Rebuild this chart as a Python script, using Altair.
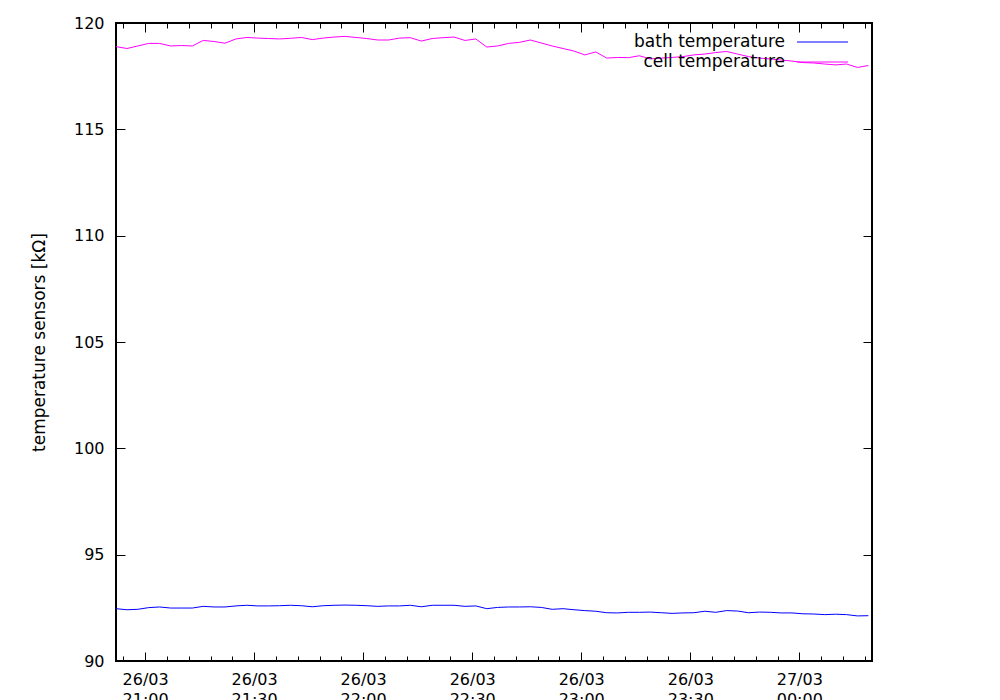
import altair as alt
import pandas as pd

# ---------------- data ----------------
series_names = ["bath temperature", "cell temperature"]
series_colors = ["#0000ff", "#ff00ff"]

start_time = "2010-03-26 20:52"   # first sample
step_minutes = 3                  # sampling step used when reading the picture

bath_values = [
    92.46, 92.41, 92.43, 92.51, 92.54, 92.49, 92.49, 92.49, 92.57, 92.54,
    92.54, 92.59, 92.62, 92.59, 92.59, 92.60, 92.62, 92.60, 92.55, 92.60,
    92.62, 92.63, 92.62, 92.60, 92.57, 92.59, 92.59, 92.62, 92.55, 92.62,
    92.62, 92.62, 92.57, 92.59, 92.46, 92.52, 92.54, 92.54, 92.55, 92.52,
    92.43, 92.46, 92.41, 92.37, 92.34, 92.27, 92.26, 92.29, 92.29, 92.30,
    92.27, 92.24, 92.26, 92.27, 92.34, 92.29, 92.37, 92.35, 92.27, 92.30,
    92.29, 92.26, 92.26, 92.22, 92.21, 92.18, 92.20, 92.18, 92.12, 92.13,
]
cell_values = [
    118.89, 118.80, 118.92, 119.04, 119.04, 118.92, 118.94, 118.92, 119.18, 119.13,
    119.05, 119.25, 119.32, 119.29, 119.27, 119.25, 119.28, 119.32, 119.22, 119.29,
    119.34, 119.37, 119.32, 119.27, 119.20, 119.20, 119.29, 119.31, 119.15, 119.27,
    119.31, 119.34, 119.18, 119.25, 118.87, 118.92, 119.04, 119.09, 119.20, 119.06,
    118.92, 118.80, 118.68, 118.50, 118.64, 118.35, 118.38, 118.37, 118.46, 118.31,
    118.35, 118.38, 118.42, 118.50, 118.54, 118.61, 118.66, 118.54, 118.42, 118.35,
    118.31, 118.26, 118.21, 118.14, 118.12, 118.07, 118.03, 118.07, 117.91, 118.00,
]

y_ticks = [90, 95, 100, 105, 110, 115, 120]
x_start = "2010-03-26 20:52"
x_end = "2010-03-27 00:20"
major_start, major_end = "2010-03-26 21:00", "2010-03-27 00:00"
minor_start, minor_end = "2010-03-26 20:54", "2010-03-27 00:18"

# ---------------- build table ----------------
times = pd.date_range(start_time, periods=len(bath_values), freq=f"{step_minutes}min")
df = pd.concat([
    pd.DataFrame({"time": times, "value": bath_values, "series": series_names[0]}),
    pd.DataFrame({"time": times, "value": cell_values, "series": series_names[1]}),
], ignore_index=True)


def dt(ts):
    t = pd.Timestamp(ts)
    return alt.DateTime(year=t.year, month=t.month, date=t.day,
                        hours=t.hour, minutes=t.minute)


major_ticks = [dt(t) for t in pd.date_range(major_start, major_end, freq="30min")]
minor_ticks = [dt(t) for t in pd.date_range(minor_start, minor_end, freq="6min")]

W, H = 756, 638
FONT = "DejaVu Sans"

xscale = alt.Scale(domain=[dt(x_start), dt(x_end)], nice=False)
yscale = alt.Scale(domain=[90, 120], nice=False, zero=False)

base = alt.Chart(df)

# main data lines with labels/title
lines = base.mark_line(strokeWidth=1, clip=True).encode(
    x=alt.X("time:T", scale=xscale, axis=alt.Axis(
        orient="bottom", values=major_ticks, ticks=False, domain=False, grid=False,
        labelExpr="[timeFormat(datum.value, '%d/%m'), timeFormat(datum.value, '%H:%M')]",
        labelFontSize=16, labelPadding=10, labelLineHeight=20, labelAlign="center",
        labelBaseline="top", labelColor="black", title=None, labelFont=FONT)),
    y=alt.Y("value:Q", scale=yscale, axis=alt.Axis(
        orient="left", values=y_ticks, ticks=False, domain=False, grid=False,
        format="d", labelFontSize=16, labelPadding=12, labelColor="black",
        labelFont=FONT,
        title="temperature sensors [kΩ]", titleFontSize=17, titleFontWeight="normal",
        titleFont=FONT, titleColor="black", titleAngle=270, titleX=-72, titleY=H / 2,
        titleAlign="center", titleBaseline="alphabetic")),
    color=alt.Color("series:N", scale=alt.Scale(domain=series_names, range=series_colors),
                    legend=None),
)


def tick_layer(xorient, yorient, xvals, yvals, length):
    xaxis = alt.Axis(orient=xorient, values=xvals, offset=-length, tickSize=length,
                     tickWidth=1, tickColor="black", labels=False, domain=False,
                     grid=False, title=None)
    if yvals is None:
        yaxis = None
    else:
        yaxis = alt.Axis(orient=yorient, values=yvals, offset=-length, tickSize=length,
                         tickWidth=1, tickColor="black", labels=False, domain=False,
                         grid=False, title=None)
    return base.mark_line(strokeOpacity=0).encode(
        x=alt.X("time:T", scale=xscale, axis=xaxis),
        y=alt.Y("value:Q", scale=yscale, axis=yaxis),
        detail="series:N",
    )


ticks_bl = tick_layer("bottom", "left", major_ticks, y_ticks, 9)
ticks_tr = tick_layer("top", "right", major_ticks, y_ticks, 9)
minor_b = tick_layer("bottom", "left", minor_ticks, None, 5)
minor_t = tick_layer("top", "right", minor_ticks, None, 5)

# legend, gnuplot style: text right-aligned, line sample on its right
legend_layers = []
for i, (name, col) in enumerate(zip(series_names, series_colors)):
    ldf = pd.DataFrame({"label": [name]})
    yy = 19 + 20 * i
    legend_layers.append(
        alt.Chart(ldf).mark_text(align="right", baseline="middle", fontSize=17,
                                 font=FONT, color="black").encode(
            text="label:N", x=alt.value(669), y=alt.value(yy)))
    legend_layers.append(
        alt.Chart(ldf).mark_rule(color=col, strokeWidth=1).encode(
            x=alt.value(681), x2=alt.value(732), y=alt.value(yy)))

chart = alt.layer(
    lines, ticks_bl, ticks_tr, minor_b, minor_t, *legend_layers
).resolve_axis(
    x="independent", y="independent"
).properties(
    width=W, height=H,
    autosize=alt.AutoSizeParams(type="none"),
    padding={"left": 108, "top": 15, "right": 100, "bottom": 50},
).configure(
    font=FONT, background="white"
).configure_view(
    stroke="black", strokeWidth=2
)

chart.save("out.html", embed_options={"renderer": "svg", "actions": False})
